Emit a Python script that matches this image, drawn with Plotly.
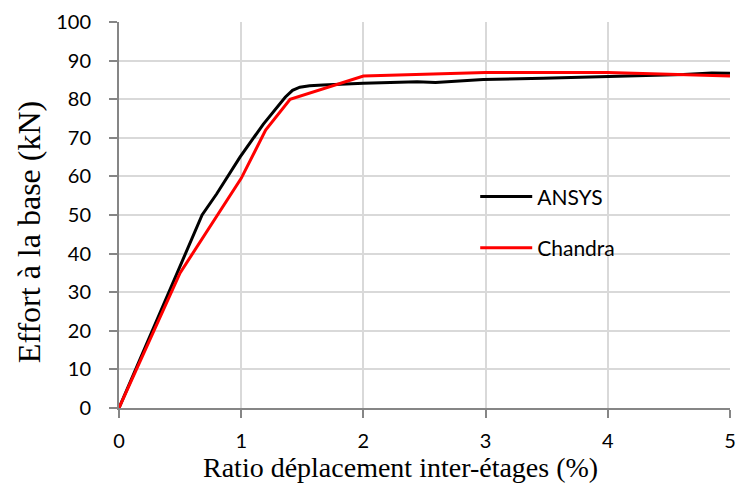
import plotly.graph_objects as go

ansys_x = [0, 0.68, 0.8, 0.99, 1.18, 1.36, 1.42, 1.48, 1.56, 1.67, 2.0, 2.44, 2.59, 2.98, 3.47, 3.94, 4.62, 4.85, 5.0]
ansys_y = [0, 50, 55.5, 65, 73.5, 80.5, 82.3, 83.1, 83.5, 83.7, 84.1, 84.5, 84.3, 85.1, 85.4, 85.8, 86.4, 86.8, 86.7]

chandra_x = [0, 0.5, 1.0, 1.2, 1.4, 2.0, 3.0, 4.0, 5.0]
chandra_y = [0, 35, 59.5, 72, 80, 86, 86.9, 86.9, 86.0]

x_ticks = [0, 1, 2, 3, 4, 5]
y_ticks = list(range(0, 101, 10))

x_title = "Ratio déplacement inter-étages (%)"
y_title = "Effort à la base (kN)"

fig = go.Figure()
fig.add_trace(go.Scatter(x=ansys_x, y=ansys_y, mode="lines", name="ANSYS",
                         legendgroup="a", line=dict(color="black", width=3)))
fig.add_trace(go.Scatter(x=chandra_x, y=chandra_y, mode="lines", name="Chandra",
                         legendgroup="c", line=dict(color="#ff0000", width=3)))

axis_common = dict(showline=True, linecolor="#868686", linewidth=2,
                   ticks="outside", tickcolor="#868686", ticklen=8, tickwidth=2,
                   showgrid=True, gridcolor="#d9d9d9", gridwidth=2, zeroline=False,
                   automargin=False,
                   tickfont=dict(family="Lato, Carlito, sans-serif", size=20, color="black"))

fig.update_xaxes(range=[0, 5], tickvals=x_ticks, ticklabelstandoff=6, **axis_common)
fig.update_yaxes(range=[0, 100], tickvals=y_ticks, ticklabelstandoff=14, **axis_common)

serif = "Liberation Serif, Times New Roman, serif"
fig.add_annotation(text=x_title, xref="paper", yref="paper", x=0.46, y=-0.153,
                   xanchor="center", yanchor="middle", showarrow=False,
                   font=dict(family=serif, size=28, color="black"))
fig.add_annotation(text=y_title, xref="paper", yref="paper", x=-0.147, y=0.456,
                   xanchor="center", yanchor="middle", showarrow=False, textangle=-90,
                   font=dict(family=serif, size=32, color="black"))

fig.update_layout(
    width=737, height=493,
    margin=dict(l=119, r=7, t=22, b=85),
    plot_bgcolor="white", paper_bgcolor="white",
    legend=dict(x=0.583, y=0.60, xanchor="left", yanchor="top",
                traceorder="grouped", tracegroupgap=21, itemwidth=52,
                font=dict(family="Lato, Carlito, sans-serif", size=21, color="black"),
                bgcolor="rgba(0,0,0,0)"),
)

fig.write_html("out.html")
